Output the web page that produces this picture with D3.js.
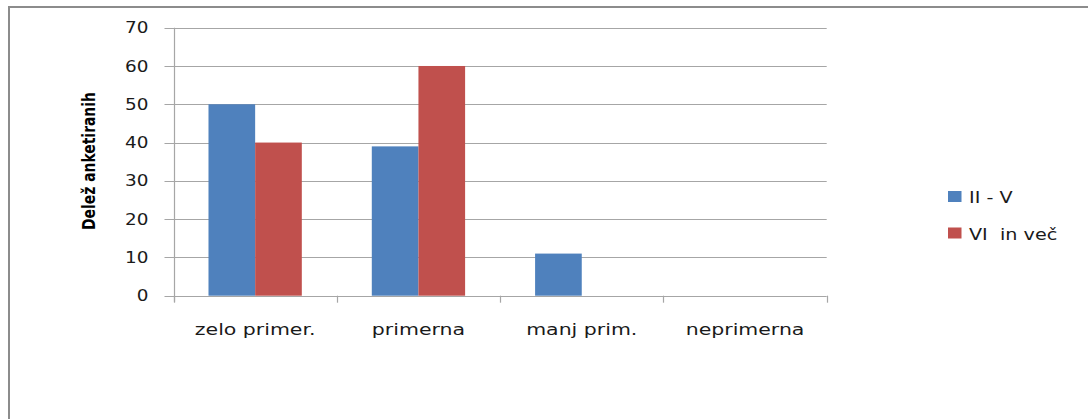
<!DOCTYPE html>
<html>
<head>
<meta charset="utf-8">
<script src="https://cdn.jsdelivr.net/npm/d3@7"></script>
<style>
  html, body { margin: 0; padding: 0; background: #fff; }
  svg { display: block; }
  .tick-label, .cat-label, .legend-label { font-family: "DejaVu Sans", Verdana, sans-serif; font-size: 16px; fill: #1a1a1a; white-space: pre; }
  .y-title { font-family: "DejaVu Sans Condensed", "DejaVu Sans", sans-serif; font-weight: bold; font-size: 18px; fill: #000; }
</style>
</head>
<body>
<script>
// Survey answers: share of respondents per rating, by group
const categories = ["zelo primer.", "primerna", "manj prim.", "neprimerna"];
const seriesNames = ["II - V", "VI  in več"];
const seriesII_V = [50, 39, 11, 0];
const seriesVI = [40, 60, 0, 0];
const yTicks = [0, 10, 20, 30, 40, 50, 60, 70];
const colors = ["#4F81BD", "#C0504D"];
const yTitle = "Delež anketiranih";

const W = 1088, H = 419;
const svg = d3.select("body").append("svg").attr("width", W).attr("height", H);

// outer chart frame (runs off the right and bottom edges)
svg.append("rect")
  .attr("x", 9).attr("y", 7).attr("width", W + 20).attr("height", H + 20)
  .attr("fill", "none").attr("stroke", "#8c8c8c").attr("stroke-width", 2);

const plot = { left: 173.5, right: 826.7, top: 27.7, bottom: 295.7 };
const sxTick = 1.15, sxCat = 1.28, sxLeg = 1.2; // horizontal stretch of text glyphs

const x0 = d3.scaleBand().domain(categories).range([plot.left, plot.right]).padding(0);
const x1 = d3.scaleBand().domain(seriesNames).range([0, x0.bandwidth()])
  .paddingInner(0).paddingOuter(0.75);
const y = d3.scaleLinear().domain([0, 70]).range([plot.bottom, plot.top]);

const grid = "#a6a6a6";

// horizontal gridlines with small left tick marks
svg.append("g").selectAll("line").data(yTicks.filter(d => d > 0)).join("line")
  .attr("x1", plot.left - 9).attr("x2", plot.right)
  .attr("y1", d => Math.round(y(d)) + 0.5).attr("y2", d => Math.round(y(d)) + 0.5)
  .attr("stroke", grid).attr("stroke-width", 1.2);

// value axis labels
svg.append("g").selectAll("text").data(yTicks).join("text")
  .attr("class", "tick-label")
  .attr("text-anchor", "end")
  .attr("dominant-baseline", "central")
  .attr("transform", d => `translate(148.5,${y(d)}) scale(${sxTick},1)`)
  .text(d => d);

// bars
const series = [seriesII_V, seriesVI];
const groups = svg.append("g").selectAll("g").data(categories).join("g")
  .attr("transform", d => `translate(${x0(d)},0)`);
groups.selectAll("rect")
  .data((c, i) => seriesNames.map((s, k) => ({ s, v: series[k][i], k })))
  .join("rect")
  .attr("x", d => x1(d.s))
  .attr("width", x1.bandwidth())
  .attr("y", d => y(d.v))
  .attr("height", d => y(0) - y(d.v))
  .attr("fill", d => colors[d.k]);

// axes lines
svg.append("line")
  .attr("x1", Math.round(plot.left) + 0.5).attr("x2", Math.round(plot.left) + 0.5)
  .attr("y1", plot.top).attr("y2", plot.bottom + 6)
  .attr("stroke", grid).attr("stroke-width", 1.2);
svg.append("line")
  .attr("x1", plot.left - 9).attr("x2", plot.right)
  .attr("y1", Math.round(plot.bottom) + 0.5).attr("y2", Math.round(plot.bottom) + 0.5)
  .attr("stroke", grid).attr("stroke-width", 1.2);

// category separators below the axis
const bounds = categories.map(c => x0(c)).concat([plot.right]);
svg.append("g").selectAll("line").data(bounds).join("line")
  .attr("x1", d => Math.round(d) + 0.5).attr("x2", d => Math.round(d) + 0.5)
  .attr("y1", plot.bottom).attr("y2", plot.bottom + 7)
  .attr("stroke", grid).attr("stroke-width", 1.2);

// category labels
svg.append("g").selectAll("text").data(categories).join("text")
  .attr("class", "cat-label")
  .attr("text-anchor", "middle")
  .attr("transform", d => `translate(${x0(d) + x0.bandwidth() / 2},335) scale(${sxCat},1)`)
  .text(d => d);

// value axis title (tall, narrow glyphs)
svg.append("text")
  .attr("class", "y-title")
  .attr("text-anchor", "middle")
  .attr("transform", "translate(95,161) rotate(-90) scale(0.86,1)")
  .text(yTitle);

// legend
const legend = svg.append("g").selectAll("g").data(seriesNames).join("g")
  .attr("transform", (d, i) => `translate(948,${191 + i * 36.5})`);
legend.append("rect").attr("width", 13.5).attr("height", 11)
  .attr("fill", (d, i) => colors[i]);
legend.append("text").attr("class", "legend-label")
  .attr("transform", `translate(21,12) scale(${sxLeg},1)`)
  .text(d => d);
</script>
</body>
</html>
